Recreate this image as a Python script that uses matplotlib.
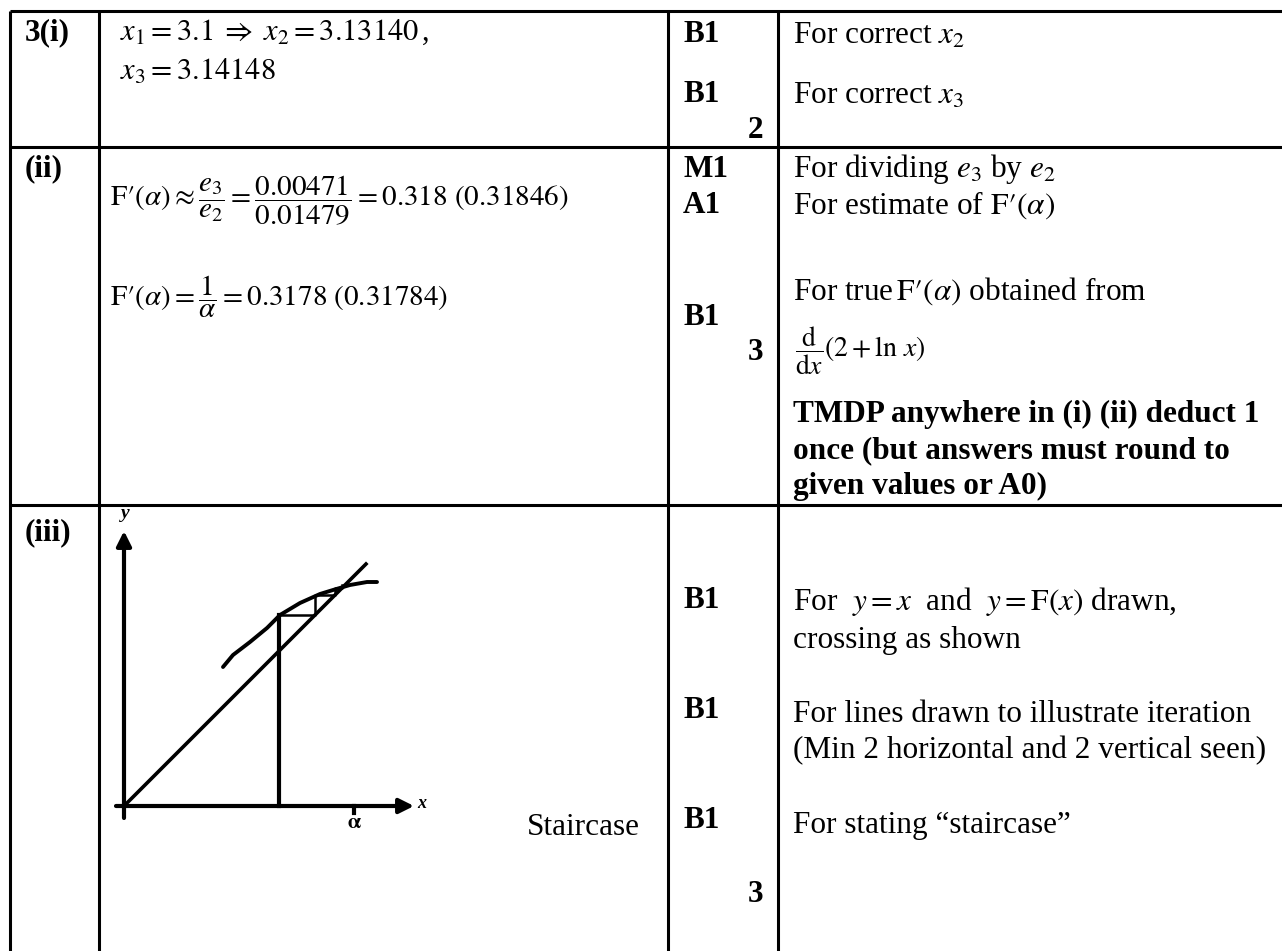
import matplotlib
matplotlib.use("Agg")
import matplotlib.pyplot as plt

plt.rcParams['font.family'] = ['Liberation Serif', 'DejaVu Serif']
plt.rcParams['mathtext.fontset'] = 'stix'

# ---------------- data ----------------
row_labels = ["3(i)", "(ii)", "(iii)"]
row_i_work = [r"$x_1 = 3.1 \;\Rightarrow\; x_2 = 3.13140\,$,", r"$x_3 = 3.14148$"]
row_i_marks = ["B1", "B1"]
row_i_total = "2"
row_i_notes = [r"For correct $x_2$", r"For correct $x_3$"]

row_ii_work = [r"$\mathrm{F}\prime(\alpha) \approx \dfrac{e_3}{e_2} = \dfrac{0.00471}{0.01479} = 0.318\ (0.31846)$",
               r"$\mathrm{F}\prime(\alpha) = \dfrac{1}{\alpha} = 0.3178\ (0.31784)$"]
row_ii_marks = ["M1", "A1", "B1"]
row_ii_total = "3"
row_ii_notes = [r"For dividing $e_3$ by $e_2$", r"For estimate of $\mathrm{F}\prime(\alpha)$",
                r"For true$\,\mathrm{F}\prime(\alpha)$ obtained from"]
row_ii_deriv = r"$\dfrac{\mathrm{d}}{\mathrm{d}x}(2+\ln\, x)$"
row_ii_bold = ["TMDP anywhere in (i) (ii) deduct 1", "once (but answers must round to",
               "given values or A0)"]

row_iii_word = "Staircase"
row_iii_marks = ["B1", "B1", "B1"]
row_iii_total = "3"
row_iii_notes = [r"For  $y = x$  and  $y = \mathrm{F}(x)$ drawn,", "crossing as shown",
                 "For lines drawn to illustrate iteration",
                 "(Min 2 horizontal and 2 vertical seen)",
                 "For stating \u201cstaircase\u201d"]

# sketch data (sketch units)
curve_x = [99, 109, 126, 143, 156, 176, 196, 209, 226, 243, 253]
curve_y = [139, 151, 164, 178, 191, 203, 212, 216, 221, 224, 224]
diag_x = [0, 242]
stair_x = [155, 191, 211, 218]
stair_y = [191, 211, 218, 221]
alpha_x = 230

# ---------------- figure ----------------
W, H = 1282, 951
fig = plt.figure(figsize=(W / 100, H / 100), dpi=100)
ax = fig.add_axes([0, 0, 1, 1])
ax.set_xlim(0, W)
ax.set_ylim(H, 0)
ax.axis('off')

LW = 2.2
FS = 22.5
FM = 21
# grid lines
xl, c1, c2, c3, xr = 10, 99, 668, 778, 1282
yt, r1, r2, yb = 11, 147, 505, 951
for yy in (yt, r1, r2):
    ax.plot([xl, xr], [yy, yy], color='black', lw=LW, solid_capstyle='butt')
for xx in (xl, c1, c2, c3):
    ax.plot([xx, xx], [yt, yb], color='black', lw=LW, solid_capstyle='butt')

def t(x, y, s, bold=False, size=FS, ha='left', va='baseline'):
    ax.text(x, y, s, fontsize=size, fontweight='bold' if bold else 'normal',
            ha=ha, va=va, color='black')

# labels column
t(25, 40, row_labels[0], bold=True)
t(25, 176, row_labels[1], bold=True)
t(25, 540, row_labels[2], bold=True)

# row (i)
t(120, 40, row_i_work[0], size=22)
t(120, 80, row_i_work[1], size=22)
t(683, 42, row_i_marks[0], bold=True)
t(683, 102, row_i_marks[1], bold=True)
t(763, 138, row_i_total, bold=True, ha='right')
t(793, 44, row_i_notes[0])
t(793, 104, row_i_notes[1])

# row (ii)
t(110, 200, row_ii_work[0], size=FM, va='center')
t(110, 297, row_ii_work[1], size=FM, va='center')
for yy, m in zip((177, 213, 325), row_ii_marks):
    t(683, yy, m, bold=True)
t(763, 360, row_ii_total, bold=True, ha='right')
for yy, n in zip((177, 214, 300), row_ii_notes):
    t(793, yy, n)
t(795, 351, row_ii_deriv, size=20, va='center')
for yy, b in zip((422, 458, 494), row_ii_bold):
    t(793, yy, b, bold=True)

# row (iii)
t(640, 835, row_iii_word, ha='right')
for yy, m in zip((608, 718, 828), row_iii_marks):
    t(683, yy, m, bold=True)
t(763, 902, row_iii_total, bold=True, ha='right')
for yy, n in zip((610, 648, 722, 758, 833), row_iii_notes):
    t(793, yy, n)

# ---------------- sketch ----------------
ox, oy = 124, 806          # pixel position of sketch origin
px0, px1, py0, py1 = 100, 440, 500, 840
axs = fig.add_axes([px0 / W, (H - py1) / H, (px1 - px0) / W, (py1 - py0) / H])
axs.set_xlim(px0 - ox, px1 - ox)
axs.set_ylim(oy - py1, oy - py0)
axs.axis('off')
axs.patch.set_alpha(0)

# axes with arrows
axs.annotate('', xy=(0, 275), xytext=(0, -12),
             arrowprops=dict(arrowstyle='-|>', lw=3, color='black', mutation_scale=22,
                             shrinkA=0, shrinkB=0))
axs.annotate('', xy=(290, 0), xytext=(-8, 0),
             arrowprops=dict(arrowstyle='-|>', lw=3, color='black', mutation_scale=22,
                             shrinkA=0, shrinkB=0))
axs.text(1, 292, 'y', fontsize=14, fontweight='bold', style='italic', ha='center', va='center')
axs.text(298, 3, 'x', fontsize=13, fontweight='bold', style='italic', ha='center', va='center')
axs.plot([alpha_x, alpha_x], [0, -7], color='black', lw=3)
axs.text(alpha_x, -18, r'$\mathbf{\alpha}$', fontsize=15, ha='center', va='center')

# y = x
axs.plot(diag_x, diag_x, color='black', lw=2.6)
# y = F(x)
axs.plot(curve_x, curve_y, color='black', lw=2.8, solid_capstyle='round')
# staircase
sx, sy = [stair_x[0], stair_x[0]], [0, stair_y[0]]
for i in range(1, len(stair_x)):
    sx += [stair_x[i], stair_x[i]]
    sy += [stair_y[i - 1], stair_y[i]]
axs.plot(sx[:2], sy[:2], color='black', lw=3)
axs.plot(sx[1:], sy[1:], color='black', lw=1.8)

fig.savefig('out.png', dpi=100)
